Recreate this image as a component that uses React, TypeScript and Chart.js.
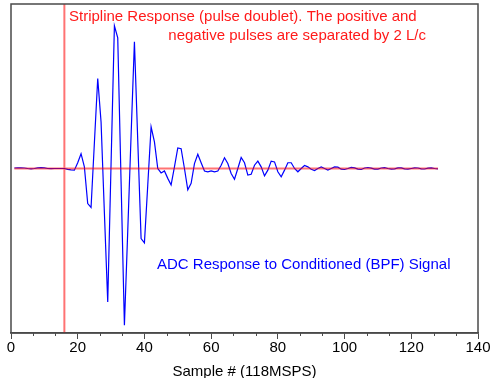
import React, { useEffect, useRef } from "react";
import { Chart, registerables } from "chart.js";

Chart.register(...registerables);

// Sample numbers (x) of the ADC response
const sampleNumbers: number[] = [
  1, 2, 3, 4, 5, 6, 7, 8, 9, 10, 11, 12, 13, 14, 15, 16, 17, 18, 19, 20,
  21, 22, 23, 24, 25, 26, 27, 28, 29, 30, 31, 32, 33, 34, 35, 36, 37, 38, 39, 40,
  41, 42, 43, 44, 45, 46, 47, 48, 49, 50, 51, 52, 53, 54, 55, 56, 57, 58, 59, 60,
  61, 62, 63, 64, 65, 66, 67, 68, 69, 70, 71, 72, 73, 74, 75, 76, 77, 78, 79, 80,
  81, 82, 83, 84, 85, 86, 87, 88, 89, 90, 91, 92, 93, 94, 95, 96, 97, 98, 99, 100,
  101, 102, 103, 104, 105, 106, 107, 108, 109, 110, 111, 112, 113, 114, 115, 116, 117, 118, 119, 120,
  121, 122, 123, 124, 125, 126, 127, 128,
];

// ADC response to conditioned (BPF) signal (normalised)
const adcResponse: number[] = [
  0.003, 0.004, 0.004, 0.003, 0.0, -0.002, 0.0, 0.004, 0.005, 0.004,
  0.0, -0.001, 0.0, 0.0, 0.0, 0.0, -0.005, -0.008, -0.01, 0.035,
  0.09, 0.01, -0.213, -0.237, 0.156, 0.547, 0.283, -0.27, -0.811, 0.03,
  0.867, 0.794, -0.08, -0.953, -0.38, 0.2, 0.771, 0.17, -0.426, -0.452,
  -0.1, 0.253, 0.162, 0.0, -0.027, -0.015, -0.06, -0.1, 0.01, 0.125,
  0.12, 0.0, -0.13, -0.09, 0.03, 0.087, 0.035, -0.015, -0.02, -0.015,
  -0.02, -0.015, 0.02, 0.065, 0.03, -0.03, -0.065, 0.0, 0.067, 0.035,
  -0.04, -0.035, 0.02, 0.045, 0.01, -0.045, -0.01, 0.045, 0.04, -0.02,
  -0.05, -0.01, 0.035, 0.035, 0.0, -0.02, 0.0, 0.018, 0.01, -0.005,
  -0.012, 0.0, 0.01, 0.0, -0.01, 0.0, 0.01, 0.008, -0.004, -0.006,
  0.0, 0.007, 0.004, -0.004, -0.006, 0.003, 0.006, 0.002, -0.004, -0.004,
  0.003, 0.005, 0.0, -0.004, -0.002, 0.004, 0.004, -0.002, -0.004, 0.0,
  0.004, 0.003, -0.002, -0.003, 0.002, 0.004, 0.0, -0.002,
];

// Stripline response (pulse doublet, off-scale at sample 16)
const striplineX: number[] = [1, 16, 16, 16, 16, 128];
const striplineY: number[] = [0, 0, 1, -1, 0, 0];

// Axis
const xMin = 0;
const xMax = 140;
const xMajorStep = 20;
const xMinorStep = 20 / 3;
const yMin = -1;
const yMax = 1;

const xTitle = "Sample # (118MSPS)";
const noteStripline1 = "Stripline Response (pulse doublet). The positive and";
const noteStripline2 = "negative pulses are separated by 2 L/c";
const noteAdc = "ADC Response to Conditioned (BPF) Signal";

const FONT = "'Liberation Sans', Arial, Helvetica, sans-serif";
const AXIS_COLOR = "#4a4a4a";

const framePlugin = {
  id: "frameAndNotes",
  afterDraw(chart: any) {
    const { ctx, chartArea } = chart;
    const xs = chart.scales.x;
    ctx.save();
    // frame
    ctx.strokeStyle = AXIS_COLOR;
    ctx.lineWidth = 1.5;
    ctx.strokeRect(chartArea.left, chartArea.top, chartArea.right - chartArea.left, chartArea.bottom - chartArea.top);
    // minor ticks
    ctx.lineWidth = 1;
    for (let k = 0; k * xMinorStep <= xMax + 1e-9; k++) {
      if (k % 3 === 0) continue;
      const px = Math.round(xs.getPixelForValue(k * xMinorStep)) + 0.5;
      ctx.beginPath();
      ctx.moveTo(px, chartArea.bottom);
      ctx.lineTo(px, chartArea.bottom + 3);
      ctx.stroke();
    }
    // notes
    ctx.font = `15px ${FONT}`;
    ctx.textBaseline = "middle";
    ctx.fillStyle = "#ff1a1a";
    ctx.textAlign = "left";
    ctx.fillText(noteStripline1, chartArea.left + 58, chartArea.top + 13);
    ctx.textAlign = "right";
    ctx.fillText(noteStripline2, chartArea.left + 415, chartArea.top + 32);
    ctx.fillStyle = "#0000ff";
    ctx.textAlign = "left";
    ctx.fillText(noteAdc, chartArea.left + 146, chartArea.top + 261);
    ctx.restore();
  },
};

export default function App() {
  const canvasRef = useRef<HTMLCanvasElement | null>(null);

  useEffect(() => {
    if (!canvasRef.current) return;
    const adcPoints = adcResponse.map((v, i) => ({ x: sampleNumbers[i], y: v }));
    const stripPoints = striplineY.map((v, i) => ({ x: striplineX[i], y: v }));
    const chart = new Chart(canvasRef.current, {
      type: "line",
      data: {
        datasets: [
          {
            label: "Stripline Response",
            data: stripPoints,
            borderColor: "rgba(255,0,0,0.55)",
            borderWidth: 2,
            pointRadius: 0,
            tension: 0,
            fill: false,
          },
          {
            label: "ADC Response",
            data: adcPoints,
            borderColor: "#0000ff",
            borderWidth: 1.2,
            pointRadius: 0,
            tension: 0,
            fill: false,
          },
        ],
      },
      options: {
        responsive: false,
        animation: false,
        events: [],
        layout: { padding: { left: 11, top: 4, right: 15, bottom: 0 } },
        plugins: {
          legend: { display: false },
          tooltip: { enabled: false },
          title: { display: false },
        },
        scales: {
          x: {
            type: "linear",
            min: xMin,
            max: xMax,
            afterFit: (scale: any) => {
              scale.height = 45;
            },
            ticks: {
              stepSize: xMajorStep,
              color: "#000",
              font: { family: FONT, size: 15 },
              padding: 0,
              maxRotation: 0,
            },
            grid: {
              display: true,
              drawOnChartArea: false,
              drawTicks: true,
              tickLength: 6,
              color: AXIS_COLOR,
            },
            border: { display: true, color: AXIS_COLOR, width: 1.5 },
            title: {
              display: true,
              text: xTitle,
              color: "#000",
              font: { family: FONT, size: 15, lineHeight: 1 },
              padding: { top: 0, bottom: -1 },
            },
          },
          y: {
            type: "linear",
            display: false,
            min: yMin,
            max: yMax,
          },
        },
      },
      plugins: [framePlugin],
    });
    return () => chart.destroy();
  }, []);

  return (
    <div style={{ position: "absolute", left: 0, top: 0, width: 493, height: 378, background: "#fff" }}>
      <canvas ref={canvasRef} width={493} height={378} style={{ display: "block" }} />
    </div>
  );
}
